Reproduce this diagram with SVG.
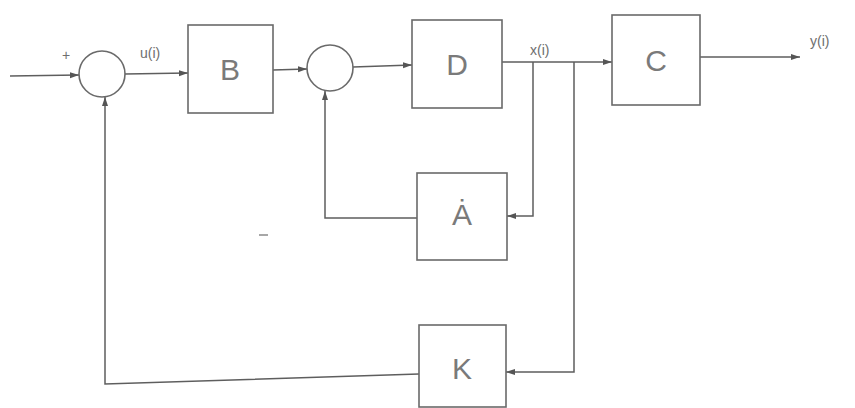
<svg xmlns="http://www.w3.org/2000/svg" width="855" height="408" viewBox="0 0 855 408">
<style>
.box{fill:#fff;stroke:#6a6a6a;stroke-width:1.6}
.sum{fill:#fff;stroke:#6a6a6a;stroke-width:1.6}
.ln{fill:none;stroke:#5e5e5e;stroke-width:1.5}
.big{font-family:"Liberation Sans",Arial,sans-serif;font-size:30px;font-weight:300;fill:#7a7a7a;text-anchor:middle;dominant-baseline:central}
.lbl{font-family:"Liberation Sans",Arial,sans-serif;font-size:14px;fill:#6e6e6e}
</style>
<defs>
<marker id="ah" markerUnits="userSpaceOnUse" markerWidth="10" markerHeight="8" refX="9" refY="4" orient="auto">
<path d="M0,1 L9,4 L0,7 Z" fill="#555"/>
</marker>
</defs>
<rect width="855" height="408" fill="#fff"/>
<g id="connectors">
<line class="ln" x1="10" y1="76" x2="79" y2="75" marker-end="url(#ah)"/>
<line class="ln" x1="125" y1="74" x2="188" y2="73" marker-end="url(#ah)"/>
<line class="ln" x1="273" y1="70" x2="307" y2="69" marker-end="url(#ah)"/>
<line class="ln" x1="353" y1="67" x2="412" y2="65" marker-end="url(#ah)"/>
<line class="ln" x1="502" y1="62" x2="612" y2="62" marker-end="url(#ah)"/>
<line class="ln" x1="700" y1="57" x2="800" y2="57" marker-end="url(#ah)"/>
<polyline class="ln" points="533,62 533,216 507,216" marker-end="url(#ah)"/>
<polyline class="ln" points="574,62 574,372 506,372" marker-end="url(#ah)"/>
<polyline class="ln" points="417,218 325,218 325,91" marker-end="url(#ah)"/>
<polyline class="ln" points="419,374 105,384 105,97" marker-end="url(#ah)"/>
<line x1="259" y1="235" x2="268" y2="235" stroke="#8a8a8a" stroke-width="1.5"/>
</g>
<g id="sum1"><circle class="sum" cx="102" cy="74" r="23"/><text class="lbl" x="62" y="60" font-size="12">+</text></g>
<g id="sum2"><circle class="sum" cx="330" cy="68" r="23"/></g>
<g id="B"><rect class="box" x="188" y="25" width="85" height="88"/><text class="big" x="230" y="69">B</text></g>
<g id="D"><rect class="box" x="412" y="20" width="90" height="88"/><text class="big" x="457" y="64">D</text></g>
<g id="C"><rect class="box" x="612" y="15" width="88" height="90"/><text class="big" x="656" y="60">C</text></g>
<g id="A"><rect class="box" x="417" y="173" width="90" height="87"/><text class="big" x="462" y="214">Ȧ</text></g>
<g id="K"><rect class="box" x="419" y="325" width="87" height="82"/><text class="big" x="462" y="368">K</text></g>
<text class="lbl" x="140" y="58">u(i)</text>
<text class="lbl" x="530" y="55">x(i)</text>
<text class="lbl" x="810" y="46">y(i)</text>
</svg>
